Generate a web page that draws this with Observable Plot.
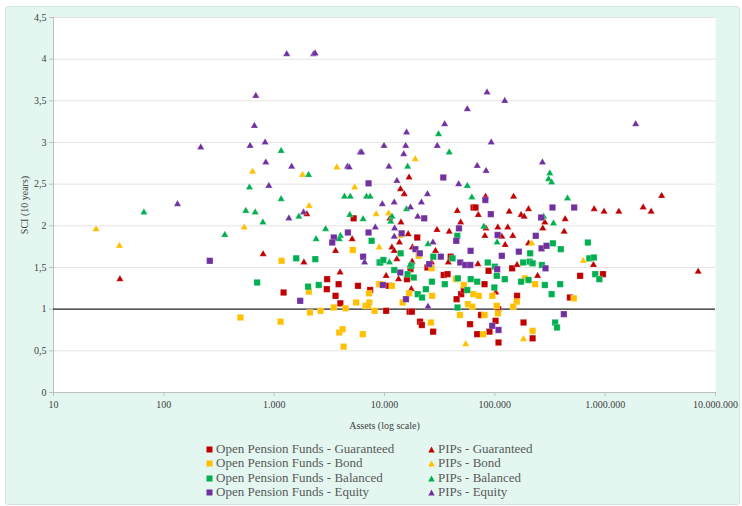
<!DOCTYPE html>
<html>
<head>
<meta charset="utf-8">
<script src="https://cdn.jsdelivr.net/npm/d3@7"></script>
<script src="https://cdn.jsdelivr.net/npm/@observablehq/plot@0.6"></script>
<style>
  html, body { margin: 0; padding: 0; background: #ffffff; }
  body { position: relative; width: 742px; height: 506px; overflow: hidden; font-family: 'Liberation Serif', 'Times New Roman', serif; }
  #card { position: absolute; left: 5px; top: 6px; width: 733px; height: 497px; background: #e3f7f0; border: 1px solid #d4e4de; border-radius: 3px; }
  #chart { position: absolute; left: 0; top: 0; }
  #chart svg text { font-family: 'Liberation Serif', 'Times New Roman', serif; }
  #legend { position: absolute; left: 0; top: 0; width: 742px; height: 506px; pointer-events: none; }
  .item { position: absolute; font-family: 'Liberation Serif', 'Times New Roman', serif; font-size: 13px; color: #595959; white-space: nowrap; line-height: 14px; }
  .item svg { position: absolute; left: -10px; top: 4px; }
</style>
</head>
<body>
<div id="card"></div>
<div id="chart"></div>
<div id="legend"></div>
<script>
// Series names (legend order)
const seriesNames = [
  "Open Pension Funds - Guaranteed", "PIPs - Guaranteed",
  "Open Pension Funds - Bond", "PIPs - Bond",
  "Open Pension Funds - Balanced", "PIPs - Balanced",
  "Open Pension Funds - Equity", "PIPs - Equity"
];
const seriesColors = ["#c00000", "#c00000", "#ffc000", "#ffc000", "#00b050", "#00b050", "#7030a0", "#7030a0"];
const seriesSymbols = ["square", "triangle", "square", "triangle", "square", "triangle", "square", "triangle"];

const xTicks = [10, 100, 1000, 10000, 100000, 1000000, 10000000];
const yTicks = [0, 0.5, 1, 1.5, 2, 2.5, 3, 3.5, 4, 4.5];

// [assets, SCI]
const opfGuaranteed = [[1217,1.20],[3020,1.36],[3000,1.24],[3600,1.16],[3840,1.30],[3980,1.07],[5750,1.28],[7410,1.23],[5250,2.09],[11000,1.28],[10350,0.98],[19800,1.86],[39800,1.63],[64100,2.22],[66800,2.22],[24500,1.50],[143500,1.49],[87700,1.46],[16000,1.36],[34400,1.41],[37300,1.42],[80700,1.30],[49500,1.18],[45000,1.12],[52300,1.23],[159000,1.16],[107200,1.00],[16900,0.97],[17700,0.97],[75000,0.93],[21000,0.85],[21800,0.81],[27600,0.73],[59600,0.82],[101500,0.86],[89400,0.73],[69200,0.70],[108000,0.60],[182000,0.84],[593000,1.40],[955000,1.42],[479000,1.14],[220000,0.65],[17200,1.48]];
const pipGuaranteed = [[1977,2.14],[3600,1.70],[5090,1.84],[794,1.66],[40,1.36],[1860,1.56],[3960,1.44],[12950,1.60],[10350,1.40],[13400,1.36],[13960,2.44],[11200,2.09],[14100,2.04],[11670,1.74],[13650,1.80],[16700,2.58],[15100,2.38],[82400,2.35],[147900,2.35],[45700,2.18],[135000,2.17],[202000,2.20],[173000,2.13],[184500,2.11],[70800,2.13],[49000,2.04],[29900,1.95],[38600,1.93],[106400,1.98],[131000,1.98],[16400,1.90],[81300,1.88],[115700,1.87],[145500,1.88],[124000,1.77],[17900,1.74],[29000,1.70],[202000,1.79],[17800,1.57],[26700,1.56],[37900,1.56],[70200,1.54],[159000,1.53],[102000,1.20],[17500,1.24],[795000,2.20],[977000,2.17],[1330000,2.17],[2210000,2.22],[2610000,2.17],[3250000,2.36],[434000,2.08],[284000,2.04],[272000,1.97],[425000,1.93],[783000,1.53],[244000,1.40],[6970000,1.45],[83000,1.97],[12250,1.70]];
const opfBond = [[495,0.90],[1143,0.85],[1167,1.58],[2065,1.21],[2110,0.96],[2630,0.98],[3470,1.02],[3890,0.72],[4170,0.76],[4260,0.55],[4440,1.01],[5160,1.71],[5540,1.08],[6360,0.70],[6720,1.04],[7240,1.19],[7300,1.08],[7100,1.04],[8130,0.98],[8900,1.30],[9150,1.30],[11670,1.28],[20400,1.64],[26700,1.49],[44300,1.36],[188000,1.37],[52300,1.29],[63800,1.18],[71500,1.16],[16700,1.19],[27000,1.16],[14600,1.08],[95000,1.16],[158000,1.09],[146600,1.03],[57000,1.06],[62500,1.03],[104000,1.04],[106600,0.95],[48300,0.93],[80700,0.93],[26300,0.84],[78400,0.70],[232000,1.30],[520000,1.13],[220000,0.74]];
const pipBond = [[24.3,1.96],[39.6,1.76],[535,1.98],[637,2.65],[1808,2.61],[2076,2.24],[3700,2.70],[5370,2.46],[8410,2.14],[8950,1.74],[10900,2.15],[19000,2.80],[216000,1.79],[634000,1.58],[54400,0.58],[182000,0.64],[14000,1.88]];
const opfBalanced = [[7640,1.82],[1585,1.61],[2360,1.60],[701,1.32],[2030,1.27],[2535,1.29],[9010,1.56],[9150,1.56],[9770,1.59],[12250,1.47],[27700,1.63],[41400,1.61],[45700,1.88],[86300,1.56],[180700,1.56],[207000,1.57],[104200,1.40],[17500,1.52],[16200,1.42],[18400,1.38],[46200,1.37],[60500,1.36],[69200,1.33],[123000,1.36],[173000,1.33],[202000,1.35],[26900,1.33],[35200,1.30],[56300,1.23],[23700,1.24],[20000,1.18],[21900,1.14],[45900,1.02],[14000,1.67],[336000,1.79],[396000,1.72],[697000,1.80],[718000,1.61],[790000,1.62],[267000,1.53],[220000,1.55],[813000,1.42],[885000,1.36],[284000,1.29],[391000,1.30],[327000,1.18],[352000,0.84],[366000,0.78],[209000,1.67],[100000,1.51],[99000,1.26]];
const pipBalanced = [[66,2.16],[357,1.89],[597,2.46],[553,2.18],[673,2.16],[790,2.04],[1157,2.90],[1157,2.32],[1674,2.11],[2050,2.61],[2400,1.84],[2925,1.96],[3980,1.88],[3890,1.84],[4340,2.35],[4900,2.35],[4850,2.13],[6400,2.08],[6870,2.35],[7410,2.35],[11100,1.56],[11700,2.11],[11400,2.05],[30900,3.10],[38600,2.88],[16200,2.71],[56300,2.48],[61900,2.34],[15850,2.20],[79400,1.99],[24800,1.78],[104800,1.80],[17100,1.53],[315000,2.63],[307000,2.56],[327000,2.52],[456000,2.33],[277000,2.11],[340000,2.03]];
const opfEquity = [[7170,2.51],[4660,1.92],[7170,1.92],[3470,1.86],[3360,1.80],[6400,1.63],[261,1.58],[1722,1.10],[9660,1.29],[34100,2.58],[82000,2.31],[92000,2.14],[22900,2.09],[47300,1.97],[44700,1.82],[106000,1.89],[19050,1.72],[20900,1.67],[60300,1.70],[165000,1.69],[115700,1.64],[32400,1.63],[25400,1.54],[48600,1.56],[54000,1.53],[60000,1.53],[105000,1.48],[15650,1.12],[94700,0.80],[108000,0.75],[333000,2.22],[524000,2.22],[263000,2.10],[235000,1.88],[265000,1.73],[294000,1.76],[288000,1.49],[422000,0.94],[14300,1.91],[13900,1.44]];
const pipEquity = [[1300,4.06],[2275,4.06],[2350,4.07],[682,3.56],[662,3.20],[605,2.96],[828,3.00],[216,2.94],[840,2.76],[1440,2.71],[895,2.48],[133,2.26],[1360,2.09],[1846,2.16],[4620,2.71],[4790,2.70],[6030,2.88],[6210,2.88],[8260,1.98],[6600,1.56],[9900,2.96],[10960,2.71],[12950,2.54],[9550,2.26],[12250,2.28],[12350,1.97],[12250,1.87],[15850,3.12],[92700,3.00],[15560,2.96],[30060,2.96],[14930,2.86],[69200,2.72],[83300,2.66],[47000,2.50],[24500,2.38],[21600,2.28],[17200,2.22],[20000,2.11],[27500,1.80],[24800,1.03],[270000,2.76],[85000,3.60],[123000,3.50],[56300,3.40],[35100,3.22],[1890000,3.22]];

const seriesData = [opfGuaranteed, pipGuaranteed, opfBond, pipBond, opfBalanced, pipBalanced, opfEquity, pipEquity];

const locale = d3.formatLocale({decimal: ",", thousands: ".", grouping: [3], currency: ["", ""]});
const fmtX = locale.format(",d");
const fmtY = d => String(d).replace(".", ",");

const font = "'Liberation Serif', 'Times New Roman', serif";
const axisColor = "#bfbfbf";
const textColor = "#404040";

const dotMarks = seriesData.map((data, i) => Plot.dot(data, {
  x: d => d[0], y: d => d[1],
  symbol: () => seriesSymbols[i],
  r: seriesSymbols[i] === "square" ? 3.6 : 2.7,
  fill: seriesColors[i], stroke: "#ffffff", strokeWidth: 0.4, strokeOpacity: 0.6
}));

const chart = Plot.plot({
  width: 742, height: 445,
  marginLeft: 53, marginRight: 27, marginTop: 17, marginBottom: 53,
  style: `background: transparent; font-family: ${font}; font-size: 10px; color: ${textColor}; overflow: visible;`,
  x: {type: "log", domain: [10, 10000000]},
  y: {domain: [0, 4.5]},
  symbol: {type: "identity"},
  marks: [
    Plot.frame({fill: "#ffffff", stroke: null}),
    Plot.gridY(yTicks, {stroke: "#e4e4e4", strokeOpacity: 1, strokeWidth: 1}),
    Plot.ruleX([10], {stroke: axisColor}),
    Plot.ruleY([0], {stroke: axisColor}),
    Plot.axisX(xTicks, {tickFormat: fmtX, tickSize: 4, tickPadding: 4, stroke: axisColor, fill: textColor, fontFamily: font,
      label: "Assets (log scale)", labelAnchor: "center", labelArrow: "none", labelOffset: 36, fontSize: 10}),
    Plot.axisY(yTicks, {tickFormat: fmtY, tickSize: 4, tickPadding: 3, stroke: axisColor, fill: textColor, fontFamily: font,
      label: "SCI (10 years)", labelAnchor: "center", labelArrow: "none", labelOffset: 33, fontSize: 10}),
    Plot.ruleY([1], {stroke: "#262626", strokeWidth: 1.4}),
    ...dotMarks
  ]
});
document.getElementById("chart").appendChild(chart);

// legend (HTML)
const legend = document.getElementById("legend");
const colX = [216, 438];
const rowY = [442, 456.3, 470.6, 485];
seriesNames.forEach((name, i) => {
  const col = i % 2, row = Math.floor(i / 2);
  const div = document.createElement("div");
  div.className = "item";
  div.style.left = colX[col] + "px";
  div.style.top = rowY[row] + "px";
  const marker = seriesSymbols[i] === "square"
    ? `<svg width="7" height="7"><rect x="0.5" y="0.5" width="6" height="6" fill="${seriesColors[i]}"/></svg>`
    : `<svg width="7" height="7"><path d="M3.5,0.5 L6.7,6.5 L0.3,6.5 Z" fill="${seriesColors[i]}"/></svg>`;
  div.innerHTML = marker + name;
  legend.appendChild(div);
});
</script>
</body>
</html>
